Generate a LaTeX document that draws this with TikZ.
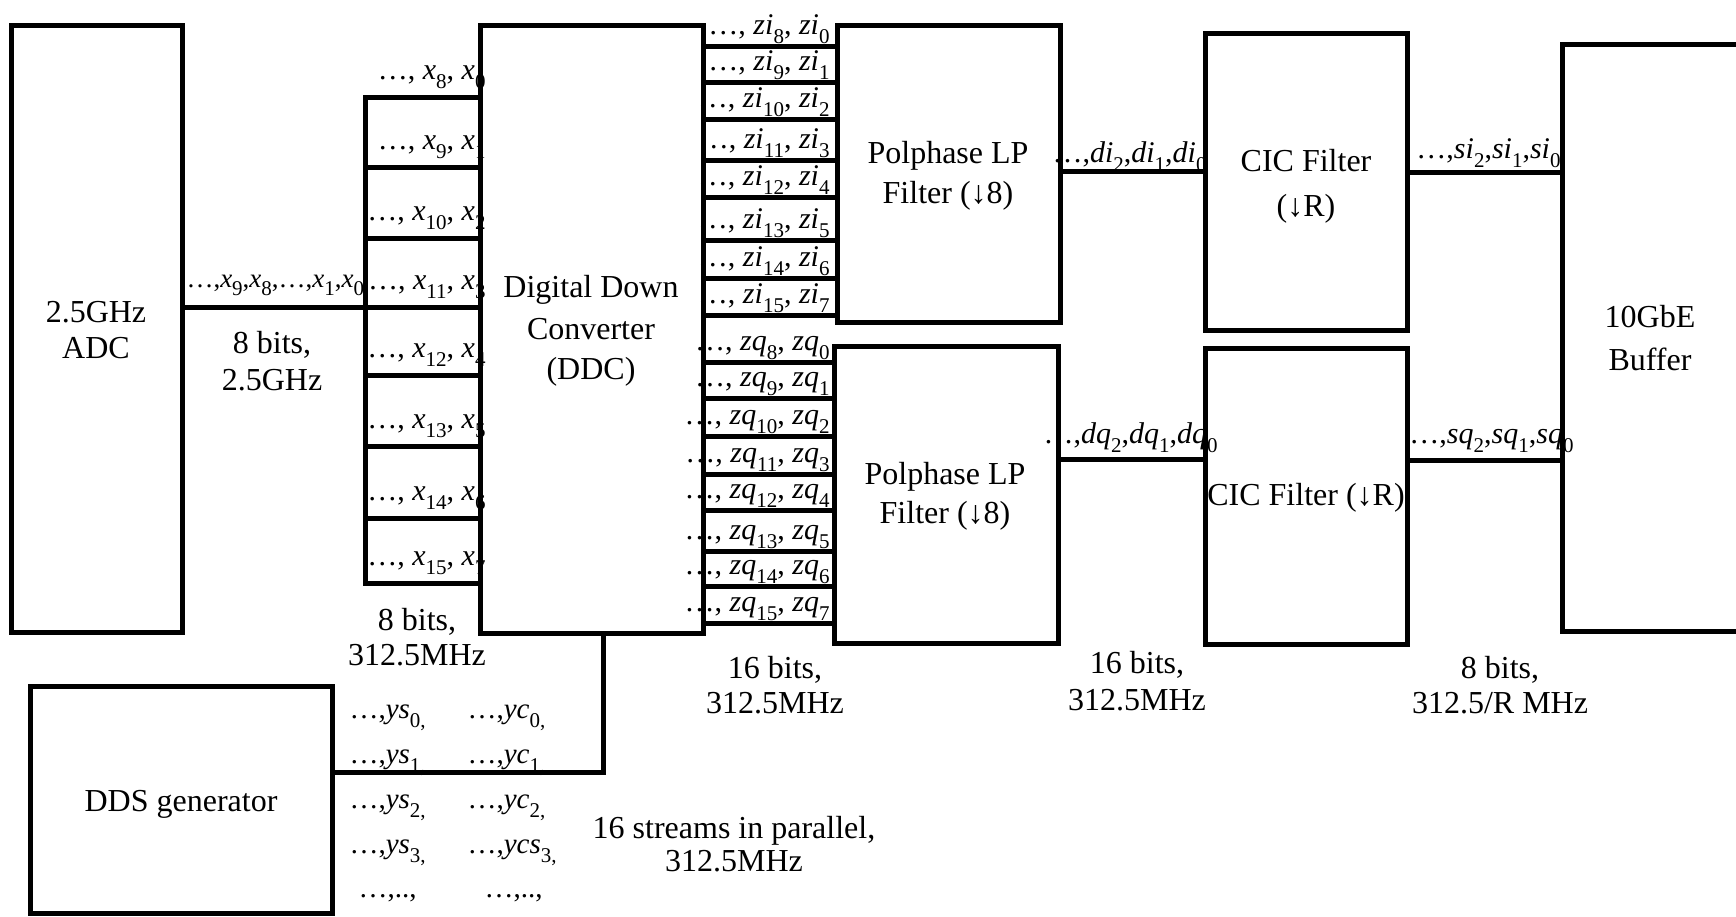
\documentclass[tikz,border=0pt]{standalone}
\usepackage{fontspec}
\setmainfont{Liberation Serif}
\newcommand\vv[2]{\textit{#1}\raisebox{-0.32em}{\fontsize{21}{21}\selectfont #2}}
\begin{document}
\begin{tikzpicture}[x=1pt,y=-1pt,line width=5pt,
  blk/.style={draw,inner sep=0pt,outer sep=0pt},
  tx/.style={inner sep=0pt,anchor=base,font=\fontsize{32}{38}\selectfont},
  lab/.style={inner sep=0pt,anchor=base east,font=\fontsize{30}{30}\selectfont},
  ds/.style={inner sep=0pt,anchor=base west,font=\fontsize{29}{29}\selectfont}]
\useasboundingbox (0,0) rectangle (1736,916);
\clip (0,0) rectangle (1736,916);

% blocks
\node[blk,minimum width=171pt,minimum height=607pt] (adc) at (96.5,328.5) {};
\node[blk,minimum width=223pt,minimum height=608pt] (ddc) at (591.5,329) {};
\node[blk,minimum width=223pt,minimum height=297pt] (pp1) at (948.5,173.5) {};
\node[blk,minimum width=224pt,minimum height=297pt] (pp2) at (946,494.5) {};
\node[blk,minimum width=202pt,minimum height=297pt] (cic1) at (1306,181.5) {};
\node[blk,minimum width=202pt,minimum height=296pt] (cic2) at (1306,496) {};
\node[blk,minimum width=180pt,minimum height=587pt] (buf) at (1652,337.5) {};
\node[blk,minimum width=302pt,minimum height=227pt] (dds) at (181,799.5) {};

% ADC -> bus
\coordinate (a0) at (0,307);
\draw (adc.east |- a0) -- (ddc.west |- a0);
% x bus
\coordinate (b1) at (365,97);
\coordinate (b8) at (365,583);
\draw (ddc.west |- b1) -- (b1) -- (b8) -- (ddc.west |- b8);
\foreach \y [count=\i from 2] in {167,238,375,446,518} {
  \coordinate (bm\i) at (365,\y);
  \draw (bm\i) -- (ddc.west |- bm\i);
}
\foreach \y/\a/\b in {97/8/0,167/9/1,238/10/2,307/11/3,375/12/4,446/13/5,518/14/6,583/15/7}
  \node[lab] (lx\a) at (488,{\y-18}) {\ldots, \vv{x}{\a}, \vv{x}{\b}};
\node[inner sep=0pt,anchor=base west,font=\fontsize{27}{27}\selectfont] (lxin) at (184,287)
  {\ldots,\vv{x}{9},\vv{x}{8},\ldots,\vv{x}{1},\vv{x}{0}};

% zi lines
\foreach \y/\a/\b in {46/8/0,82/9/1,119/10/2,160/11/3,197/12/4,240/13/5,278/14/6,315/15/7} {
  \coordinate (zi\a) at (703,\y);
  \draw (ddc.east |- zi\a) -- (pp1.west |- zi\a);
  \node[lab] (lzi\a) at (832,{\y-12}) {\ldots, \vv{zi}{\a}, \vv{zi}{\b}};
}
% zq lines
\foreach \y/\a/\b in {362/8/0,398/9/1,436/10/2,474/11/3,510/12/4,551/13/5,586/14/6,623/15/7} {
  \coordinate (zq\a) at (703,\y);
  \draw (ddc.east |- zq\a) -- (pp2.west |- zq\a);
  \node[lab] (lzq\a) at (832,{\y-12}) {\ldots, \vv{zq}{\a}, \vv{zq}{\b}};
}

% filter chain
\coordinate (di) at (0,171);
\coordinate (dq) at (0,459);
\coordinate (si) at (0,172);
\coordinate (sq) at (0,460);
\draw (pp1.east |- di) -- (cic1.west |- di);
\draw (pp2.east |- dq) -- (cic2.west |- dq);
\draw (cic1.east |- si) -- (buf.west |- si);
\draw (cic2.east |- sq) -- (buf.west |- sq);
\node[lab] (ldi) at (1209,162) {\ldots,\vv{di}{2},\vv{di}{1},\vv{di}{0}};
\node[lab] (ldq) at (1220,443) {\ldots,\vv{dq}{2},\vv{dq}{1},\vv{dq}{0}};
\node[lab] (lsi) at (1563,158) {\ldots,\vv{si}{2},\vv{si}{1},\vv{si}{0}};
\node[lab] (lsq) at (1576,443) {\ldots,\vv{sq}{2},\vv{sq}{1},\vv{sq}{0}};

% DDS -> DDC
\coordinate (jn) at (603,772);
\draw (jn |- ddc.south) -- (jn) -- (dds.east |- jn);

% block texts
\node[tx] (tadc1) at (96,322) {2.5GHz};
\node[tx] (tadc2) at (96,358) {ADC};
\node[tx] (tr1a) at (272,353) {8 bits,};
\node[tx] (tr1b) at (272,390) {2.5GHz};
\node[tx] (tddc1) at (591,297) {Digital Down};
\node[tx] (tddc2) at (591,339) {Converter};
\node[tx] (tddc3) at (591,379) {(DDC)};
\node[tx] (tpp1a) at (948,163) {Polphase LP};
\node[tx] (tpp1b) at (948,203) {Filter (↓8)};
\node[tx] (tpp2a) at (945,484) {Polphase LP};
\node[tx] (tpp2b) at (945,523) {Filter (↓8)};
\node[tx] (tcic1a) at (1306,171) {CIC Filter};
\node[tx] (tcic1b) at (1306,216) {(↓R)};
\node[tx] (tcic2) at (1306,505) {CIC Filter (↓R)};
\node[tx] (tbuf1) at (1650,327) {10GbE};
\node[tx] (tbuf2) at (1650,370) {Buffer};
\node[tx] (tdds) at (181,811) {DDS generator};
\node[tx] (tr2a) at (417,630) {8 bits,};
\node[tx] (tr2b) at (417,665) {312.5MHz};
\node[tx] (tr3a) at (775,678) {16 bits,};
\node[tx] (tr3b) at (775,713) {312.5MHz};
\node[tx] (tr4a) at (1137,673) {16 bits,};
\node[tx] (tr4b) at (1137,710) {312.5MHz};
\node[tx] (tr5a) at (1500,678) {8 bits,};
\node[tx] (tr5b) at (1500,713) {312.5/R MHz};
\node[tx] (tr6a) at (734,838) {16 streams in parallel,};
\node[tx] (tr6b) at (734,871) {312.5MHz};

% DDS outputs
\node[ds] (ys0) at (347,718) {\ldots,\vv{ys}{0,}};
\node[ds] (yc0) at (465,718) {\ldots,\vv{yc}{0,}};
\node[ds] (ys1) at (347,763) {\ldots,\vv{ys}{1,}};
\node[ds] (yc1) at (465,763) {\ldots,\vv{yc}{1,}};
\node[ds] (ys2) at (347,808) {\ldots,\vv{ys}{2,}};
\node[ds] (yc2) at (465,808) {\ldots,\vv{yc}{2,}};
\node[ds] (ys3) at (347,853) {\ldots,\vv{ys}{3,}};
\node[ds] (yc3) at (465,853) {\ldots,\vv{ycs}{3,}};
\node[ds] (ys4) at (356,897) {\ldots,..,};
\node[ds] (yc4) at (482,897) {\ldots,..,};
\end{tikzpicture}
\end{document}
